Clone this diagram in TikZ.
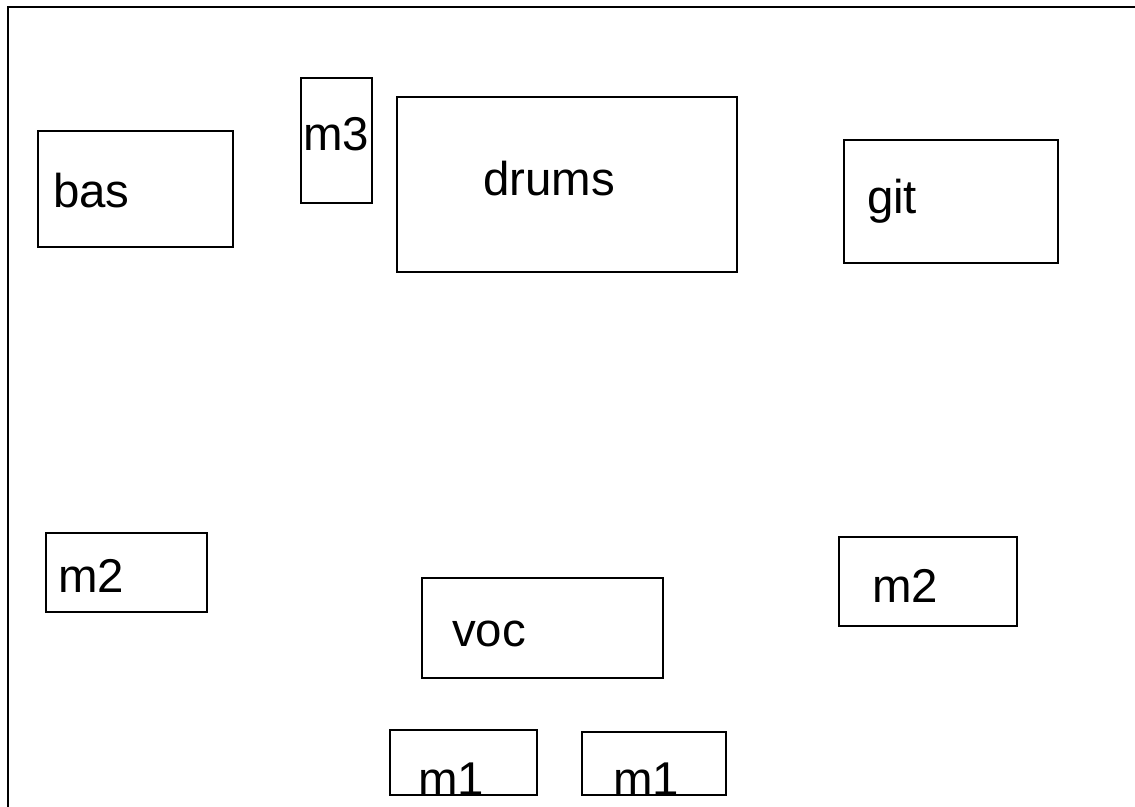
\documentclass[tikz,border=0pt]{standalone}
\usepackage{fontspec}
\setmainfont{Liberation Sans}
\usepackage{tikz}

\begin{document}
\begin{tikzpicture}[x=0.02cm,y=-0.02cm]
\tikzstyle{box}=[draw,line width=1pt,inner sep=0,outer sep=0]
\tikzstyle{lbl}=[inner sep=0,outer sep=0,anchor=base west,font=\fontsize{27}{30}\selectfont]
\useasboundingbox (0,0) rectangle (1135,806);
\clip (0,0) rectangle (1135,806);
% stage
\draw[line width=1.4pt] (1140,7) -- (8,7) -- (8,810);
% boxes: name/centre x/centre y/width/height
\foreach \n/\x/\y/\w/\h in {bas/135.5/189/195/116,m3/336.5/140.5/71/125,drums/567/184.5/340/175,git/951/201.5/214/123,m2l/126.5/572.5/161/79,voc/542.5/628/241/100,m2r/928/581.5/178/89,m1l/463.5/762.5/147/65,m1r/654/763.5/144/63}{
\node[box,minimum width=\w*0.02cm,minimum height=\h*0.02cm] (\n) at (\x,\y) {};
};
% labels
\foreach \n/\x/\y/\t in {bas/53/207/bas,m3/303/150/m3,drums/483/195/drums,git/867/213/git,m2l/58/592/m2,voc/452/646/voc,m2r/872/602/m2,m1l/418/795/m1,m1r/613/795/m1}{
\node[lbl] (\n txt) at (\x,\y) {\t};
};
\end{tikzpicture}
\end{document}
